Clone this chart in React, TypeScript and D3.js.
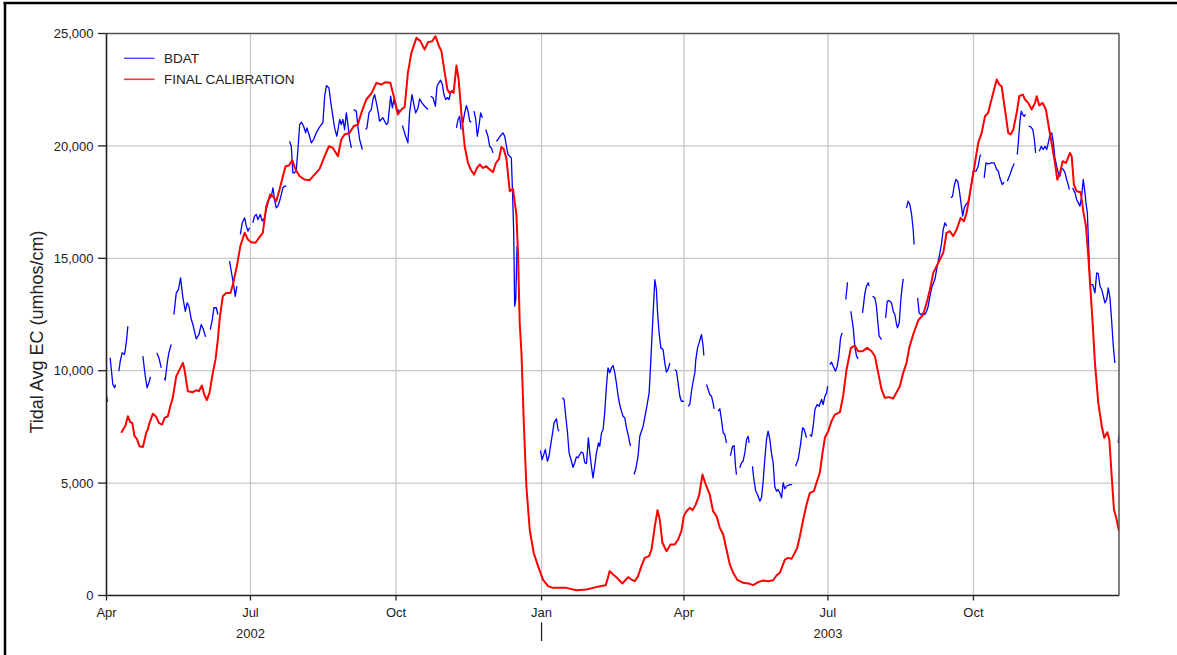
import React from "react";
import * as d3 from "d3";

// Days are counted from 2002-04-01 (day 0); values are tidal average EC in umhos/cm.
const START_UTC = Date.UTC(2002, 3, 1);
const END_UTC = Date.UTC(2004, 0, 1);

const yTicks = [0, 5000, 10000, 15000, 20000, 25000];
const monthNames = ["Jan", "Feb", "Mar", "Apr", "May", "Jun", "Jul", "Aug", "Sep", "Oct", "Nov", "Dec"];
const yearLabels = [
  { label: "2002", date: Date.UTC(2002, 6, 1) },
  { label: "2003", date: Date.UTC(2003, 6, 1) },
];
const yearDividers = [Date.UTC(2003, 0, 1)];

const finalCalibration: [number, number][] = [
  [9.3,7240],[12,7560],[13.5,7975],[15,7710],[16.3,7680],[17.7,7090],[19.2,6970],[20.9,6640],[23,6610],[25.1,7240],[26.1,7385],[27.2,7680],[29.3,8080],[31.4,7950],[33.1,7680],[35.2,7605],[36.7,7905],[38.8,7975],[40.3,8420],[41.9,8795],[44.1,9755],[46.2,10050],[48.3,10350],[49.3,10050],[51.4,9090],[54.6,9045],[56.7,9130],[58.4,9090],[60.3,9340],[61.8,8940],[63.4,8690],[65.1,9015],[67.2,9905],[68.9,10500],[70.4,11390],[71.5,12280],[73.5,13310],[75.7,13460],[78.4,13460],[79.9,13835],[82.4,14650],[84.6,15540],[87.3,16135],[89.4,15835],[91.5,15715],[94.2,15690],[96.8,15955],[98.8,16135],[101,17315],[103.5,17835],[105.2,17760],[107.3,17540],[109.4,18060],[111.5,18650],[113.2,19095],[115.3,19125],[117.4,19365],[119.5,18950],[122.1,18650],[125.2,18505],[128.4,18475],[131.5,18725],[134.7,18980],[137.9,19540],[140.6,19985],[143.1,19910],[146.3,19540],[148.4,20285],[150.5,20505],[153.7,20580],[156.2,20875],[158.9,20950],[161.1,21470],[164.2,22065],[167.4,22330],[170.6,22805],[173.7,22730],[176.4,22835],[179.4,22805],[182.1,22065],[184.2,21395],[186.4,21620],[188.5,21735],[190.5,23250],[192.7,24140],[195.9,24805],[198.4,24660],[201.1,24285],[203.2,24615],[206,24660],[207.9,24880],[210.2,24435],[211.7,24215],[213.8,23250],[215.5,22505],[216.9,22360],[218.6,22435],[219.4,22360],[221.2,23575],[222.6,22950],[224.3,21470],[226.4,19985],[228.5,19245],[230.2,18950],[232.3,18725],[234.2,19020],[235.9,19170],[238,19020],[240.1,19095],[242.2,18950],[244.3,18830],[246,19215],[248.1,19425],[249.6,19955],[251.1,19865],[252.8,19425],[254.9,17985],[256.9,18090],[259.1,16950],[260.1,15245],[261.2,12100],[262.3,10795],[263.7,7830],[265.4,4860],[267.5,2935],[270,1900],[272.8,1305],[275.9,710],[279.1,415],[282.2,340],[290.7,340],[297,235],[303.4,265],[307.5,340],[311.8,415],[315.6,460],[318.1,1085],[320.2,935],[322.7,785],[326.1,535],[329.7,815],[331.8,710],[333.9,635],[336,860],[338.1,1305],[340.2,1675],[343,1750],[344.5,2045],[346.6,3085],[348.3,3795],[349.7,3380],[351.4,2345],[354,1970],[356.5,2270],[359.2,2270],[361.3,2490],[363.4,2860],[364.9,3530],[366.6,3750],[368.7,3900],[370.4,3795],[372.5,4050],[374.6,4450],[376.7,5380],[378.8,4935],[381.3,4495],[383.4,3750],[385.6,3530],[387.7,3010],[389.8,2715],[391.9,2045],[394,1380],[396.1,1010],[398.6,710],[402.4,565],[406.6,520],[408.7,460],[411.9,595],[415,665],[418.2,635],[421.4,680],[423.5,890],[425.6,1010],[428.8,1600],[430.9,1675],[433,1630],[435.1,1900],[436.6,2120],[438.3,2640],[440.4,3380],[442.5,4050],[444.6,4565],[447.1,4640],[448.8,5015],[450.9,5460],[452.6,6345],[454.1,7015],[456.2,7310],[458.3,7755],[460.4,8050],[463.6,8155],[465.6,8865],[467.8,10055],[470.5,11015],[473,11120],[475.1,10865],[477.9,10865],[480.8,11015],[483.6,10865],[485.7,10645],[487.8,9905],[489.9,9165],[492,8795],[494.7,8825],[497.3,8765],[499.4,9045],[501.5,9310],[503.6,9905],[505.7,10350],[507.4,11015],[509.9,11610],[513.1,12240],[516.2,12500],[518.4,13015],[520.5,13610],[522.6,14350],[524.7,14650],[526.8,14945],[528.9,15240],[531,16135],[533.1,16205],[535.2,15985],[537.4,16280],[539.9,16800],[542,16650],[543.7,17025],[545.8,17915],[548.3,18950],[551,20135],[553.2,20580],[555.3,21320],[557.3,21470],[558.9,21915],[560.5,22360],[562.7,22950],[564.3,22730],[565.8,22655],[567.9,21620],[570,20580],[571.5,20505],[573.2,20730],[575.3,21470],[577,22210],[579.1,22285],[580.6,22065],[582.6,21915],[584.8,21620],[586.9,21915],[588,22210],[589.6,21795],[591.7,21915],[593.8,21620],[595.9,20730],[598.1,19840],[599.5,19245],[601,18505],[602.7,18800],[604.4,19320],[606.5,19245],[609,19690],[610.1,19540],[611.5,18280],[613.2,17985],[615.8,17940],[617.4,17095],[619.1,16430],[620.6,15095],[622.1,13460],[623.4,12050],[624.8,10350],[626.9,8570],[629.1,7530],[630.7,7015],[632.6,7265],[633.9,6940],[635.4,5305],[636.8,3825],[638.5,3380],[640,2860]
];

// BDAT observed record, broken into segments where data are missing.
const bdatSegments: [number, number][][] = [
  [[0,8860],[0.6,8620]],
  [[2.3,10575],[4,9385],[5.1,9240],[5.7,9385]],
  [[7.8,9980],[8.7,10420],[9.9,10795],[11.4,10720],[12.5,11240],[13.5,11980]],
  [[23,10645],[24.5,9755],[25.7,9240],[26.8,9460],[27.8,9730]],
  [[31.8,10795],[33.1,10575],[34.6,10130]],
  [[36.7,9685],[37.1,9580],[38.4,10350],[39.4,10795],[40.9,11165]],
  [[42.6,12500],[44.1,13460],[45.5,13610],[46.8,14130],[48.3,13240],[49.8,12645],[51,13015],[52.1,12870],[53.6,12275],[54.6,12055],[56.7,11420],[58.4,11600],[59.9,12055],[61.3,11830],[62.6,11505]],
  [[65.6,11830],[66.9,12280],[67.9,12800],[69.4,12800],[70.4,12500]],
  [[77.8,14870],[79.2,14280],[80.5,13760],[81.4,13310],[82.4,13760]],
  [[84.6,16060],[85.8,16580],[87.3,16800],[88.4,16430],[89.4,16210],[90.4,16355]],
  [[92.5,16580],[93.6,16875],[94.7,16950],[95.7,16725],[97.2,16950],[98.5,16650],[99.9,16800],[101,17170],[102.6,17615],[104.2,17760],[105.2,18135],[106.2,17615],[107.3,17245],[108.3,17320],[109.4,17540],[110.5,17835],[111.5,18135],[112.6,18205],[113.6,18205]],
  [[115.7,20210],[116.8,19985],[117.8,18800],[118.9,18800],[120,18950],[121,19840],[122.1,20950],[123.2,21055],[124.6,20875],[125.9,20580],[126.7,20800],[128,20505],[129.5,20135],[130.9,20285],[132.6,20580],[134.3,20800],[135.8,20950],[136.8,21025],[137.9,22210],[139,22685],[140.6,22580],[142.1,21765],[144.2,20800],[145.6,20430],[147.4,21175],[148.4,20950],[149.4,21175],[150.5,20730],[151.6,21470],[152.6,20950],[153.7,20285],[154.8,19910]],
  [[156.2,21620],[157.9,21545],[158.9,20875],[160,20285],[161.7,19840]],
  [[163.8,20730],[164.6,20800],[165.9,21470],[167.4,21620],[168.4,22065],[169.5,22285],[170.6,21915],[171.6,21545],[172.6,21100],[174.7,21250],[176.9,20950],[177.9,21025],[179.6,22210],[180.7,21690],[181.7,22065],[182.8,21765],[184.2,21470],[184.9,21620]],
  [[187,20905],[189.1,20430],[190.5,20135],[191.6,21470],[193.1,22285],[194.1,21915],[195.4,21470],[196.9,21690],[197.9,22095],[199.4,21915],[201.1,21765],[203.2,21620]],
  [[204.9,22210],[206.4,22140],[207.9,21765],[208.9,22655],[210,22805],[211.2,22925],[212.3,22730],[213.3,22285],[214.4,22065],[215.5,22140],[216.5,22065],[217.5,22360],[218.6,22480]],
  [[221.2,20800],[222.2,21175],[223.2,21320],[224.1,20730]],
  [[225.3,21025],[226.4,21470],[227.5,21795],[228.5,21545],[229.6,21100],[230.6,21055]],
  [[232.3,21545],[233.4,21175],[234.4,20430],[235.4,20875],[236.5,21470],[237.6,21250]],
  [[239.7,20730],[241.1,20430],[242.2,19985],[243.3,19910],[244.3,19690]],
  [[246.4,20210],[247.5,20285],[248.5,20400],[249.6,20505],[250.6,20580],[251.7,20430],[252.8,19985],[253.8,19615],[254.9,19540],[255.9,19465],[256.6,18060],[257.4,16135],[258,12870],[258.7,13165],[259.5,15540]],
  [[274.3,6450],[275.3,6050],[276.4,6270],[277.4,6495],[278.7,5975],[279.7,6195],[280.8,6715],[281.8,7160],[282.9,7680],[284.4,7860],[285.4,7385],[286,7310]],
  [[288.2,8795],[289.2,8720],[290.3,7975],[291.4,7240],[292.4,6345],[293.6,6050],[294.9,5705],[296,5905],[297,6165],[298.1,6125],[299.1,6270],[300.2,6375],[301.2,6350],[302.3,5905],[303.4,5870],[304.6,7015],[305.5,6345],[306.5,5750],[307.5,5235],[308.6,5750],[309.7,6345],[311,6790],[311.8,6640],[312.9,7240],[313.9,7385],[314.9,8125],[316,9310],[317,10130],[318.1,9905],[319.2,10130],[320.2,10230],[321.3,9905],[322.3,9460],[323.4,8865],[324.4,8495],[325.5,8200],[326.5,7975],[327.6,7905],[328.7,7460],[329.7,7160],[331.2,6640]],
  [[333.5,5380],[334.5,5605],[336,6195],[337.1,7085],[339.2,7530],[341.4,8350],[343,9015],[344,10350],[345.1,11980],[346.6,14055],[347.6,13610],[348.3,12600],[349.3,11685],[350.4,11015],[351.8,10945],[352.9,10350],[353.9,9935],[355,10055],[356.1,10350]],
  [[359.2,10055],[360.3,9980],[361.3,9460],[362.4,8865],[363.4,8640],[364.9,8640]],
  [[367.6,8420],[368.7,8495],[369.8,9085],[370.8,9530],[371.9,9905],[372.5,10495],[373.6,11015],[374.6,11240],[376.1,11610],[377.1,11090],[377.6,10675]],
  [[379.3,9385],[380.3,9165],[381.3,8940],[382.4,8865],[383.4,8570],[384.1,8305]],
  [[386.6,8200],[387.7,8305],[388.7,7830],[389.8,7240],[390.8,7160],[391.9,6790]],
  [[394.4,6225],[395.7,6640],[396.7,6670],[397.6,5750],[398.2,5380]],
  [[400.3,5680],[401.4,5905],[402.4,5975],[403.5,6345],[404.6,6940],[405.6,7085],[406.2,6790]],
  [[408.3,5750],[409.2,5160],[410.4,4640],[411.5,4495],[413,4195],[414,4345],[415,5015],[416.1,6050],[417.2,6940],[418.2,7310],[419.3,6940],[420.3,6345],[421.4,5905],[422.4,4860],[423.5,4640],[424.5,4715],[425.6,4565],[426.7,4345],[427.7,5015],[428.8,4745],[429.8,4860],[431.9,4935],[433.4,4935]],
  [[435.5,5750],[437.2,6050],[438.7,6715],[440,7460],[441,7385],[442.5,7015]],
  [[444.6,7160],[445.7,7085],[446.7,7530],[447.8,8275],[449.2,8495],[450.5,8420],[452,8720],[453,8495],[454.1,8865],[455.2,9015],[455.8,9310]],
  [[457.2,10275],[458.3,10380],[459.3,10200],[460.8,9980],[461.9,10200],[462.9,10645],[464,11460],[465,11685]],
  [[467.3,13165],[468.4,13935]],
  [[470.5,12645],[472,11905],[473,11090],[474.1,10645],[475.1,10530]],
  [[477.9,12570],[479.4,13460],[480.4,13760],[481.5,13910],[482.1,13760]],
  [[484.2,13315],[485.7,13240],[486.7,12870],[487.4,12276],[488.4,11535],[489.9,11385]],
  [[492.5,12350],[493.5,13090],[494.7,13120],[496.2,13015],[497.3,12645],[498.3,12500],[499.4,12055],[500,11905],[501.1,12130],[502.1,13165],[503,13760],[503.6,14085]],
  [[505.7,17245],[506.7,17540],[507.8,17390],[508.9,16950],[509.9,16280],[510.5,15615]],
  [[512.7,13240],[513.7,12570],[514.8,12500],[516.2,12570],[517.3,12500],[518.4,12645],[519.4,12870],[520.5,13315],[521.9,13760],[523.6,14055],[525.1,14650],[526.4,15095],[527.9,15690],[528.9,16280],[530,16580],[531,16430]],
  [[533.8,17690],[534.8,17760],[535.8,18205],[536.9,18505],[538,18430],[539,18060],[540.1,17465],[541.2,16875],[542.2,17245],[543.2,17390],[544.3,17465],[545.3,17615],[547.9,18875],[549.6,18875],[551,19095],[552.1,19540],[552.7,19615]],
  [[554.8,18580],[555.9,19245],[557.3,19200],[559.5,19245],[561.1,19245],[562.7,18950],[563.7,18875],[564.7,18580],[566.2,18280],[567.3,18385]],
  [[569.4,18430],[571.1,18725],[572.5,19020],[573.8,19215]],
  [[575.7,19615],[576.5,20285],[577.4,21100],[578.2,21545],[579.1,21395],[580.1,21320],[581,21400]],
  [[582.9,20875],[584.2,20845],[585.5,20730],[586.5,20285],[587.3,19690]],
  [[589.6,19765],[590.9,19985],[592.1,19840],[593.2,19985],[594.3,19840],[595.3,20135],[596.4,20505],[597.5,20580],[598.5,20135],[599.5,19465],[600.6,19095],[601.6,18800],[602.7,18650],[603.7,19020],[604.8,18950],[605.9,18800],[606.9,18505],[607.9,18280],[608.6,18060]],
  [[610.7,18135],[612.2,17910],[613.2,17615],[614.3,17465],[615.3,17320],[616.4,17760],[617.4,18505],[618.5,17910],[619.1,17465],[620,17020],[620.8,15540],[621.7,13830],[623.4,13830],[624.8,13460],[625.9,14350],[626.9,14320],[628,13760],[629.1,13610],[630.1,13315],[631.1,13015],[632.2,13165],[633.2,13685],[634.3,13240],[635.3,12275],[636.4,11090],[637.4,10350]],
  [[639.5,6790],[640,7160]],
];

const W = 1177;
const H = 655;
const PL = 106.5, PR = 1119, PT = 33.5, PB = 595.5;
const FONT = "'Liberation Sans', Arial, Helvetica, sans-serif";

const dayToDate = (d: number) => new Date(START_UTC + d * 86400000);

export default function App() {
  const x = d3.scaleUtc().domain([new Date(START_UTC), new Date(END_UTC)]).range([PL, PR]);
  const y = d3.scaleLinear().domain([0, 25000]).range([PB, PT]);
  const line = d3
    .line<[number, number]>()
    .x((d) => x(dayToDate(d[0])))
    .y((d) => y(d[1]));

  const xTicks = x
    .ticks(d3.utcMonth.every(3) as any)
    .filter((t) => t.getTime() >= START_UTC && t.getTime() < END_UTC);
  const fmt = d3.format(",");

  return (
    <svg
      width={W}
      height={H}
      style={{ position: "absolute", left: 0, top: 0, background: "#fff" }}
      fontFamily={FONT}
    >
      <rect x={0} y={0} width={W} height={H} fill="#fff" />
      {/* outer frame (top and left edges visible) */}
      <line x1={3.5} y1={3} x2={W} y2={3} stroke="#000" strokeWidth={2.5} />
      <line x1={5} y1={2} x2={5} y2={H} stroke="#000" strokeWidth={2.5} />

      <defs>
        <clipPath id="plotclip">
          <rect x={PL} y={PT - 2} width={PR - PL} height={PB - PT + 2} />
        </clipPath>
      </defs>

      {/* grid */}
      {yTicks
        .filter((t) => t > 0 && t < 25000)
        .map((t) => (
          <line key={"gy" + t} x1={PL} x2={PR} y1={y(t)} y2={y(t)} stroke="#c8c8c8" strokeWidth={1.3} />
        ))}
      {xTicks
        .filter((t) => t.getTime() > START_UTC)
        .map((t) => (
          <line key={"gx" + t.getTime()} x1={x(t)} x2={x(t)} y1={PT} y2={PB} stroke="#c8c8c8" strokeWidth={1.3} />
        ))}

      {/* series */}
      <g clipPath="url(#plotclip)">
        {bdatSegments.map((seg, i) => (
          <path key={"b" + i} d={line(seg) || ""} fill="none" stroke="#0000ff" strokeWidth={1.3} strokeLinejoin="round" />
        ))}
        <path d={line(finalCalibration) || ""} fill="none" stroke="#ff0000" strokeWidth={2} strokeLinejoin="round" />
      </g>

      {/* plot frame */}
      <line x1={PL} x2={PR} y1={PT} y2={PT} stroke="#555" strokeWidth={1.5} />
      <line x1={PR} x2={PR} y1={PT} y2={PB} stroke="#555" strokeWidth={1.5} />
      <line x1={PL} x2={PL} y1={PT} y2={PB} stroke="#222" strokeWidth={1.6} />
      <line x1={PL} x2={PR} y1={PB} y2={PB} stroke="#222" strokeWidth={1.6} />

      {/* y axis */}
      {yTicks.map((t) => (
        <g key={"yt" + t}>
          <line x1={PL - 8.5} x2={PL} y1={y(t)} y2={y(t)} stroke="#222" strokeWidth={1.3} />
          <text x={93.5} y={y(t)} dy="0.36em" textAnchor="end" fontSize={13} fill="#222">
            {fmt(t)}
          </text>
        </g>
      ))}
      <text
        transform={`translate(43,332) rotate(-90)`}
        textAnchor="middle"
        fontSize={18}
        fill="#222"
      >
        Tidal Avg EC (umhos/cm)
      </text>

      {/* x axis */}
      {xTicks.map((t) => (
        <g key={"xt" + t.getTime()}>
          <line x1={x(t)} x2={x(t)} y1={PB} y2={PB + 5} stroke="#222" strokeWidth={1.3} />
          <text x={x(t)} y={617} textAnchor="middle" fontSize={13} fill="#222">
            {monthNames[t.getUTCMonth()]}
          </text>
        </g>
      ))}
      {yearLabels.map((yl) => (
        <text key={yl.label} x={x(new Date(yl.date))} y={637.5} textAnchor="middle" fontSize={13} fill="#222">
          {yl.label}
        </text>
      ))}
      {yearDividers.map((d) => (
        <line key={"yd" + d} x1={x(new Date(d))} x2={x(new Date(d))} y1={622.5} y2={641} stroke="#222" strokeWidth={1.3} />
      ))}

      {/* legend */}
      <line x1={124} x2={154.5} y1={58.3} y2={58.3} stroke="#4d4dff" strokeWidth={1.4} />
      <text x={164} y={62.5} fontSize={13.5} fill="#222">BDAT</text>
      <line x1={124} x2={154.5} y1={79.3} y2={79.3} stroke="#ff3333" strokeWidth={1.6} />
      <text x={164} y={83.5} fontSize={13.5} fill="#222">FINAL CALIBRATION</text>
    </svg>
  );
}
